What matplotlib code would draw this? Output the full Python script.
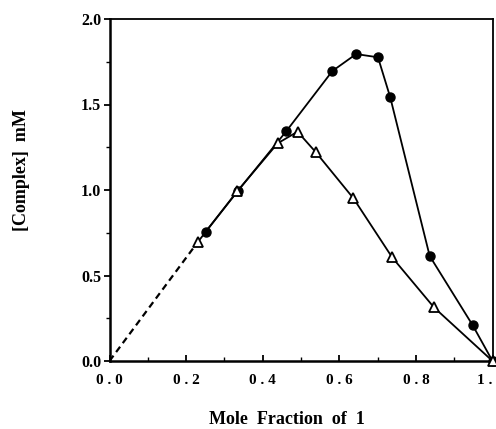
import matplotlib
matplotlib.use("Agg")
import matplotlib.pyplot as plt
from matplotlib.ticker import MultipleLocator, FixedLocator

plt.rcParams['font.family'] = ['Liberation Serif', 'DejaVu Serif']
plt.rcParams['font.weight'] = 'bold'

# Job plot data: filled circles and open triangles
circle_x = [0.251, 0.335, 0.462, 0.582, 0.644, 0.701, 0.733, 0.836, 0.948, 1.0]
circle_y = [0.756, 0.994, 1.345, 1.696, 1.795, 1.776, 1.542, 0.614, 0.210, 0.0]

tri_x = [0.230, 0.334, 0.439, 0.491, 0.539, 0.637, 0.738, 0.847, 1.0]
tri_y = [0.694, 0.994, 1.273, 1.341, 1.220, 0.951, 0.606, 0.314, 0.0]

# extrapolation back to the origin
dash_x = [0.0, tri_x[0]]
dash_y = [0.0, tri_y[0]]

x_ticks = [0.0, 0.2, 0.4, 0.6, 0.8, 1.0]
x_tick_labels = ["0 . 0", "0 . 2", "0 . 4", "0 . 6", "0 . 8", "1 ."]
y_ticks = [0.0, 0.5, 1.0, 1.5, 2.0]
y_tick_labels = ["0.0", "0.5", "1.0", "1.5", "2.0"]

fig = plt.figure(figsize=(4.96, 4.29), dpi=100)
ax = fig.add_axes([109.5 / 496, 1 - 361 / 429, 383 / 496, 342 / 429])

ax.plot(dash_x, dash_y, color='black', lw=1.6, ls=(0, (3, 2)))
ax.plot(circle_x, circle_y, color='black', lw=1.3, marker='o', ms=6.5,
        mfc='black', mec='black', clip_on=False, zorder=3)
ax.plot(tri_x, tri_y, color='black', lw=1.3, marker='^', ms=7.5,
        mfc='white', mec='black', mew=1.3, clip_on=False, zorder=4)

ax.set_xlim(0, 1.0)
ax.set_ylim(0, 2.0)

ax.xaxis.set_major_locator(FixedLocator(x_ticks))
ax.set_xticklabels(x_tick_labels, fontsize=11, fontweight='bold')
ax.xaxis.set_minor_locator(MultipleLocator(0.1))
ax.yaxis.set_major_locator(FixedLocator(y_ticks))
ax.set_yticklabels(y_tick_labels, fontsize=11.5, fontweight='bold')
ax.yaxis.set_minor_locator(MultipleLocator(0.25))
# last label sits at the figure's right edge
ax.get_xticklabels()[-1].set_horizontalalignment('right')

ax.tick_params(axis='x', which='major', direction='in', length=4, width=1.3, pad=9)
ax.tick_params(axis='x', which='minor', direction='in', length=3, width=1.0)
ax.tick_params(axis='y', which='major', direction='out', length=4, width=1.3, pad=2)
ax.tick_params(axis='y', which='minor', direction='out', length=3, width=1.0)

for side in ['left', 'bottom']:
    ax.spines[side].set_linewidth(1.8)
for side in ['top', 'right']:
    ax.spines[side].set_linewidth(1.3)

fig.text(287 / 496, 1 - 419 / 429, "Mole  Fraction  of  1", ha='center', va='center',
         fontsize=13, fontweight='bold')
fig.text(22 / 496, 1 - 170 / 429, "[Complex]  mM", ha='center', va='center',
         rotation=90, fontsize=13, fontweight='bold')

fig.savefig("out.png", dpi=100)
